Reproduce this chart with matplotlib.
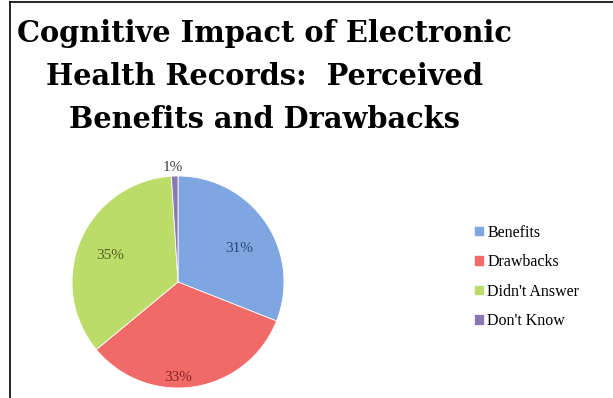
import matplotlib.pyplot as plt
import matplotlib.patches as mpatches
from matplotlib.lines import Line2D

labels = ["Benefits", "Drawbacks", "Didn't Answer", "Don't Know"]
values = [31, 33, 35, 1]
pct_text = ["31%", "33%", "35%", "1%"]
colors = ["#7ea6e0", "#f06a68", "#bcdc6a", "#8a78b4"]

fig = plt.figure(figsize=(6.13, 3.98), dpi=100)
fig.patch.set_facecolor("white")

# frame lines (left and top only)
fig.add_artist(Line2D([10/613, 10/613], [0, 1 - 2/398], color="black", lw=1.2))
fig.add_artist(Line2D([10/613, 1], [1 - 2/398, 1 - 2/398], color="black", lw=1.2))

fig.text(264/613, 1 - 19/398, "Cognitive Impact of Electronic\nHealth Records:  Perceived\nBenefits and Drawbacks",
         ha="center", va="top", fontsize=20.8, fontweight="bold",
         family="DejaVu Serif", linespacing=1.6)

R = 106
cx, cy = 178, 282
ax = fig.add_axes([(cx-R)/613, 1 - (cy+R)/398, 2*R/613, 2*R/398])
wedges, _ = ax.pie(values, colors=colors, startangle=90, counterclock=False,
                   wedgeprops=dict(linewidth=0.6, edgecolor="white"))
ax.set_xlim(-1, 1)
ax.set_ylim(-1, 1)
ax.set_aspect("equal")

label_pos = [(0.58, 0.32), (0.0, -0.9), (-0.64, 0.25), (-0.05, 1.08)]
label_col = ["#2a4a80", "#8a2020", "#556020", "#404040"]
for (x, y), t, c in zip(label_pos, pct_text, label_col):
    ax.text(x, y, t, ha="center", va="center", fontsize=11,
            family="Liberation Serif", color=c, clip_on=False)

handles = [mpatches.Patch(color=c, label=l) for c, l in zip(colors, labels)]
fig.legend(handles=handles, loc="center left", bbox_to_anchor=(461/613, 1 - 277/398),
           frameon=False, prop={"family": "Liberation Serif", "size": 11.5},
           handlelength=0.45, handleheight=0.45, handletextpad=0.3, labelspacing=0.85)

fig.savefig("out.png", dpi=100)
